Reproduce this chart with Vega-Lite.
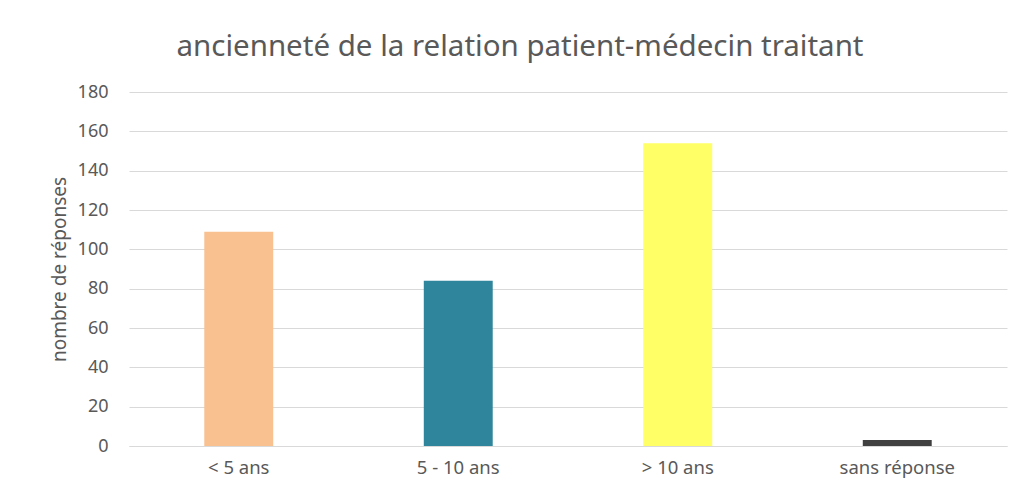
{
  "$schema": "https://vega.github.io/schema/vega-lite/v6.json",
  "width": 878,
  "height": 354,
  "autosize": "none",
  "padding": {"left": 129, "top": 92, "right": 16, "bottom": 50},
  "background": "white",
  "config": {"view": {"stroke": null}, "font": "Noto Sans"},
  "title": {
    "text": "ancienneté de la relation patient-médecin traitant",
    "anchor": "middle",
    "frame": "group",
    "dx": -48,
    "offset": 21,
    "fontSize": 29.5,
    "font": "Noto Sans",
    "fontWeight": "normal",
    "color": "#595959"
  },
  "data": {
    "values": [
      {"categorie": "< 5 ans", "reponses": 109},
      {"categorie": "5 - 10 ans", "reponses": 84},
      {"categorie": "> 10 ans", "reponses": 154},
      {"categorie": "sans réponse", "reponses": 3}
    ]
  },
  "mark": {"type": "bar"},
  "encoding": {
    "x": {
      "field": "categorie",
      "type": "nominal",
      "sort": null,
      "scale": {"paddingInner": 0.686, "paddingOuter": 0.343},
      "axis": {
        "title": null,
        "labelAngle": 0,
        "labelFontSize": 18.5,
        "labelColor": "#595959",
        "labelPadding": 12,
        "ticks": false,
        "domainColor": "#d9d9d9",
        "labelFont": "Noto Sans"
      }
    },
    "y": {
      "field": "reponses",
      "type": "quantitative",
      "scale": {"domain": [0, 180]},
      "axis": {
        "title": "nombre de réponses",
        "titleFontSize": 19,
        "titleFontWeight": "normal",
        "titleColor": "#595959",
        "titlePadding": 8,
        "values": [0, 20, 40, 60, 80, 100, 120, 140, 160, 180],
        "labelFontSize": 18,
        "labelColor": "#595959",
        "labelPadding": 21,
        "ticks": false,
        "domain": false,
        "gridColor": "#d9d9d9",
        "labelFont": "Noto Sans",
        "titleFont": "Noto Sans"
      }
    },
    "color": {
      "field": "categorie",
      "type": "nominal",
      "sort": null,
      "scale": {
        "domain": ["< 5 ans", "5 - 10 ans", "> 10 ans", "sans réponse"],
        "range": ["#F9C18F", "#2E859C", "#FFFF66", "#404040"]
      },
      "legend": null
    }
  }
}
